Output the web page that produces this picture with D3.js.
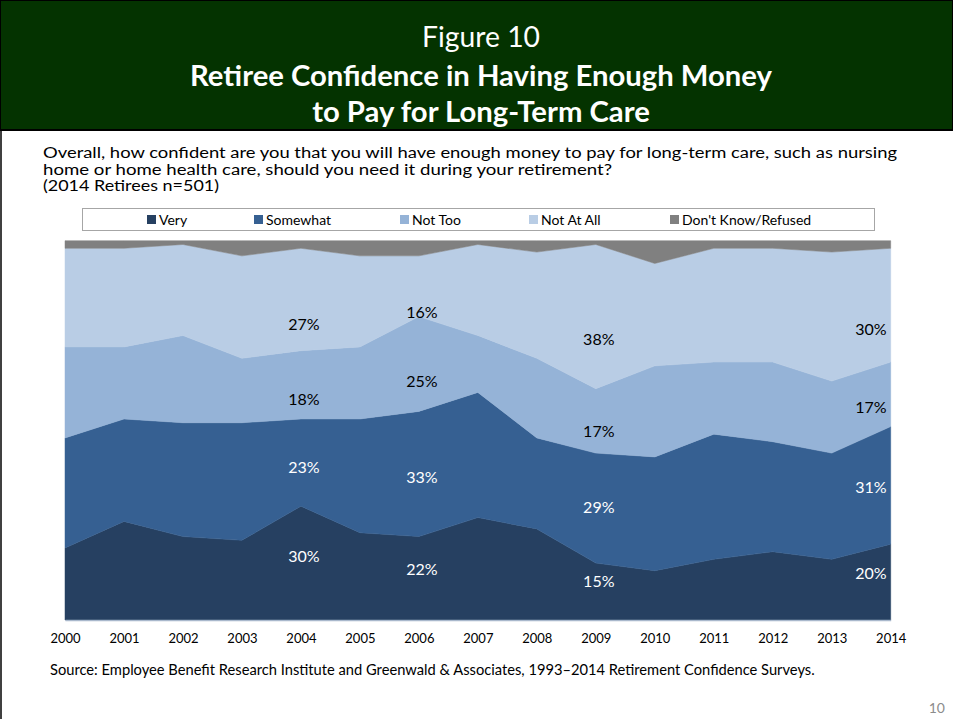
<!DOCTYPE html>
<html>
<head>
<meta charset="utf-8">
<script src="https://cdn.jsdelivr.net/npm/d3@7"></script>
<style>
  body { margin: 0; background: #fff; }
  svg { display: block; font-family: Lato, "Open Sans", sans-serif; }
</style>
</head>
<body>
<div id="chart"></div>
<script>
// survey years
var years = [2000, 2001, 2002, 2003, 2004, 2005, 2006, 2007, 2008, 2009, 2010, 2011, 2012, 2013, 2014];

// percent of retirees per answer
var very     = [19, 26, 22, 21, 30, 23, 22, 27, 24, 15, 13, 16, 18, 16, 20];
var somewhat = [29, 27, 30, 31, 23, 30, 33, 33, 24, 29, 30, 33, 29, 28, 31];
var notToo   = [24, 19, 23, 17, 18, 19, 25, 15, 21, 17, 24, 19, 21, 19, 17];
var notAtAll = [26, 26, 24, 27, 27, 24, 16, 24, 28, 38, 27, 30, 30, 34, 30];
var dontKnow = [2, 2, 1, 4, 2, 4, 4, 1, 3, 1, 6, 2, 2, 3, 2];

var seriesNames = ["Very", "Somewhat", "Not Too", "Not At All", "Don't Know/Refused"];
var seriesColors = ["#264061", "#366092", "#95b3d7", "#b9cde5", "#808080"];
var labelColors = ["#ffffff", "#ffffff", "#000000", "#000000", null];

// years that carry value labels
var labelYears = [2004, 2006, 2009, 2014];

var questionLines = [
    "Overall, how confident are you that you will have enough money to pay for long-term care, such as nursing",
    "home or home health care, should you need it during your retirement?",
    "(2014 Retirees n=501)"
];

var width = 953, height = 719;
var plot = {left: 65, right: 890.7, top: 240.7, bottom: 620};

var svg = d3.select("#chart")
    .append("svg")
    .attr("width", width)
    .attr("height", height);

// shrink/grow a text so it spans a wanted width
function fitText(sel, target) {
    var fs = parseFloat(sel.attr("font-size"));
    var w = sel.node().getComputedTextLength();
    sel.attr("font-size", (fs * target / w).toFixed(2));
    return fs * target / w;
}

// header block
svg.append("rect")
    .attr("x", 0.5).attr("y", 0.5)
    .attr("width", width - 1).attr("height", 129)
    .attr("fill", "#043300")
    .attr("stroke", "#000").attr("stroke-width", 1);
svg.append("line")
    .attr("x1", 0).attr("x2", width)
    .attr("y1", 130).attr("y2", 130)
    .attr("stroke", "#000").attr("stroke-width", 2);
svg.append("line")
    .attr("x1", 1).attr("x2", 1)
    .attr("y1", 130).attr("y2", height)
    .attr("stroke", "#000").attr("stroke-width", 1.5);

var t1 = svg.append("text")
    .attr("x", 481).attr("y", 47)
    .attr("text-anchor", "middle")
    .attr("fill", "#fff")
    .attr("font-size", 27)
    .text("Figure 10");
fitText(t1, 118);

var t2 = svg.append("text")
    .attr("x", 481).attr("y", 86)
    .attr("text-anchor", "middle")
    .attr("fill", "#fff")
    .attr("font-weight", "bold")
    .attr("font-size", 27)
    .text("Retiree Confidence in Having Enough Money");
var titleSize = fitText(t2, 582);

svg.append("text")
    .attr("x", 481).attr("y", 122)
    .attr("text-anchor", "middle")
    .attr("fill", "#fff")
    .attr("font-weight", "bold")
    .attr("font-size", titleSize.toFixed(2))
    .text("to Pay for Long-Term Care");

// question, three tight lines stretched to the widths in the picture
var questionWidths = [854, 569, 176];
svg.append("g")
    .selectAll("text")
    .data(questionLines)
    .enter().append("text")
    .attr("x", 43)
    .attr("y", function (d, i) { return 158 + i * 16.6; })
    .attr("font-size", 14.5)
    .attr("fill", "#000")
    .attr("textLength", function (d, i) { return questionWidths[i]; })
    .attr("lengthAdjust", "spacingAndGlyphs")
    .text(function (d) { return d; });

// legend
svg.append("rect")
    .attr("x", 82.5).attr("y", 208.5)
    .attr("width", 792).attr("height", 22)
    .attr("fill", "#fff")
    .attr("stroke", "#a6a6a6");

var legendX = [147, 254, 400, 529, 670];
var legend = svg.selectAll(".legend")
    .data(seriesNames)
    .enter().append("g")
    .attr("class", "legend")
    .attr("transform", function (d, i) { return "translate(" + legendX[i] + ",219.5)"; });
legend.append("rect")
    .attr("x", 0).attr("y", -4.5)
    .attr("width", 9).attr("height", 9)
    .attr("fill", function (d, i) { return seriesColors[i]; });
legend.append("text")
    .attr("x", 12).attr("y", 5)
    .attr("font-size", 14)
    .attr("fill", "#000")
    .text(function (d) { return d; });

// stacked areas
var table = years.map(function (y, i) {
    var row = {year: y};
    row[seriesNames[0]] = very[i];
    row[seriesNames[1]] = somewhat[i];
    row[seriesNames[2]] = notToo[i];
    row[seriesNames[3]] = notAtAll[i];
    row[seriesNames[4]] = dontKnow[i];
    return row;
});

var stacked = d3.stack().keys(seriesNames)(table);

var x = d3.scaleLinear()
    .domain([years[0], years[years.length - 1]])
    .range([plot.left, plot.right]);

var y = d3.scaleLinear()
    .domain([0, 100])
    .range([plot.bottom, plot.top]);

var area = d3.area()
    .x(function (d) { return x(d.data.year); })
    .y0(function (d) { return y(d[0]); })
    .y1(function (d) { return y(d[1]); });

svg.append("g")
    .selectAll("path")
    .data(stacked)
    .enter().append("path")
    .attr("d", area)
    .attr("fill", function (d, i) { return seriesColors[i]; })
    .attr("stroke", function (d, i) { return seriesColors[i]; })
    .attr("stroke-width", 0.5);

// x axis
var xAxis = d3.axisBottom(x)
    .tickValues(years)
    .tickFormat(d3.format("d"))
    .tickSize(0)
    .tickPadding(14);

var axisG = svg.append("g")
    .attr("transform", "translate(0," + plot.bottom + ")")
    .call(xAxis);
axisG.select(".domain")
    .attr("stroke", "#a9b8cc")
    .attr("stroke-width", 1.5);
axisG.selectAll("text")
    .attr("font-family", "Lato, sans-serif")
    .attr("font-size", 13)
    .attr("fill", "#000");

// value labels, placed like the spreadsheet does it
var labelData = [];
stacked.forEach(function (s, si) {
    if (!labelColors[si]) return;
    s.forEach(function (d) {
        if (labelYears.indexOf(d.data.year) < 0) return;
        var mid = (d[0] + d[1]) / 2;
        labelData.push({
            year: d.data.year,
            value: d[1] - d[0],
            pos: 0.88 * mid + 3.7,
            color: labelColors[si]
        });
    });
});

svg.append("g")
    .selectAll("text")
    .data(labelData)
    .enter().append("text")
    .attr("x", function (d) {
        return d.year === years[years.length - 1] ? plot.right - 4 : x(d.year) + 3;
    })
    .attr("y", function (d) { return y(d.pos) + 6; })
    .attr("text-anchor", function (d) {
        return d.year === years[years.length - 1] ? "end" : "middle";
    })
    .attr("font-size", 16)
    .attr("fill", function (d) { return d.color; })
    .text(function (d) { return d.value + "%"; });

// source + page number
var src = svg.append("text")
    .attr("x", 50).attr("y", 674.5)
    .attr("font-size", 13)
    .attr("fill", "#000")
    .text("Source:  Employee Benefit Research Institute and Greenwald & Associates, 1993\u20132014 Retirement Confidence Surveys.");
fitText(src, 765);

svg.append("text")
    .attr("x", 945).attr("y", 713)
    .attr("text-anchor", "end")
    .attr("font-size", 14)
    .attr("fill", "#8c8c8c")
    .text("10");
</script>
</body>
</html>
